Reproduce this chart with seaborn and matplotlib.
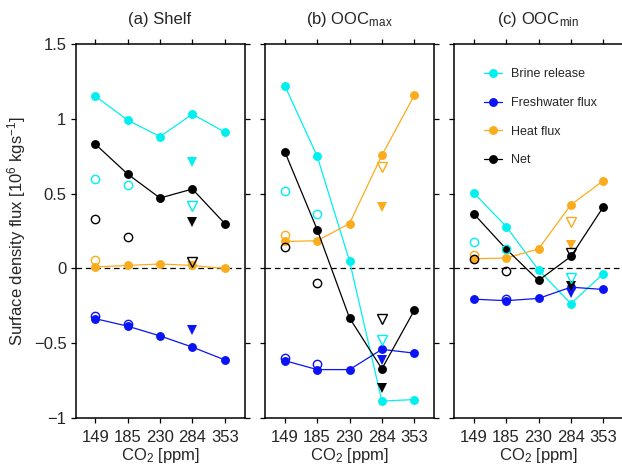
import numpy as np
import matplotlib
matplotlib.use("Agg")
import matplotlib.pyplot as plt
import seaborn as sns

nan = np.nan

# CO2 levels of the experiments
co2_labels = ["149", "185", "230", "284", "353"]

# Series names and colours
series_names = ["Brine release", "Freshwater flux", "Heat flux", "Net"]
series_colors = ["#00f0f0", "#0a14f5", "#fbac1c", "#000000"]

# (a) Shelf: control runs (lines), extra runs at 149/185 (open circles),
# sensitivity runs at 284 (filled / open triangles)
shelf_brine = [1.15, 0.99, 0.88, 1.03, 0.91]
shelf_fresh = [-0.335, -0.385, -0.45, -0.525, -0.61]
shelf_heat = [0.01, 0.02, 0.03, 0.02, 0.0]
shelf_net = [0.83, 0.63, 0.47, 0.53, 0.30]
shelf_open = [[0.60, 0.56], [-0.315, -0.37], [0.055, nan], [0.33, 0.21]]
shelf_tri_filled = [0.71, -0.41, 0.015, 0.31]
shelf_tri_open = [0.42, nan, nan, 0.04]

# (b) OOC max
max_brine = [1.22, 0.75, 0.05, -0.885, -0.875]
max_fresh = [-0.615, -0.675, -0.675, -0.54, -0.565]
max_heat = [0.18, 0.185, 0.30, 0.755, 1.155]
max_net = [0.78, 0.26, -0.33, -0.67, -0.28]
max_open = [[0.515, 0.365], [-0.60, -0.64], [0.225, nan], [0.14, -0.10]]
max_tri_filled = [nan, -0.61, 0.41, -0.80]
max_tri_open = [-0.48, nan, 0.68, -0.34]

# (c) OOC min
min_brine = [0.505, 0.28, -0.01, -0.235, -0.035]
min_fresh = [-0.205, -0.215, -0.20, -0.125, -0.14]
min_heat = [0.065, 0.07, 0.13, 0.425, 0.585]
min_net = [0.365, 0.13, -0.08, 0.08, 0.41]
min_open = [[0.175, 0.13], [nan, -0.205], [0.09, nan], [0.065, -0.015]]
min_tri_filled = [nan, -0.165, 0.155, -0.12]
min_tri_open = [-0.065, nan, 0.31, 0.105]

sns.set_style("ticks")
plt.rcParams["font.family"] = ["Liberation Sans", "DejaVu Sans"]
plt.rcParams["mathtext.fontset"] = "custom"
plt.rcParams["mathtext.rm"] = "Liberation Sans"
plt.rcParams["mathtext.it"] = "Liberation Sans"

fig = plt.figure(figsize=(6.22, 4.72), dpi=100)
W, H = 622, 472
ax_w = 169
bottom_px, top_px = 418.3, 43.7
lefts = [75.5, 265, 454]
axes = [fig.add_axes([l / W, (H - bottom_px) / H, ax_w / W, (bottom_px - top_px) / H])
        for l in lefts]

pos = np.arange(1, 6)


def draw_panel(ax, lines, open_pts, tri_filled, tri_open, title, show_legend=False):
    ax.axhline(0, color="k", lw=0.9, ls=(0, (4.5, 3.0)), zorder=1)
    for name, col, vals in zip(series_names, series_colors, lines):
        sns.lineplot(x=pos, y=vals, color=col, marker="o", markersize=6.4,
                     markeredgewidth=0, linewidth=0.9, ax=ax, label=name,
                     zorder=3)
    for col, vals in zip(series_colors, open_pts):
        sns.lineplot(x=pos[:2], y=vals, color=col, linestyle="none", marker="o",
                     markersize=6.0, markerfacecolor="none", markeredgecolor=col,
                     markeredgewidth=1.0, ax=ax, zorder=4)
    for col, v in zip(series_colors, tri_filled):
        sns.lineplot(x=[pos[3]], y=[v], color=col, linestyle="none", marker="v",
                     markersize=6.5, markeredgewidth=0, ax=ax, zorder=4)
    for col, v in zip(series_colors, tri_open):
        sns.lineplot(x=[pos[3]], y=[v], color=col, linestyle="none", marker="v",
                     markersize=6.5, markerfacecolor="none", markeredgecolor=col,
                     markeredgewidth=1.0, ax=ax, zorder=4)

    ax.set_xlim(0.39, 5.61)
    ax.set_ylim(-1, 1.5)
    ax.set_xticks(pos)
    ax.set_xticklabels(co2_labels)
    ax.set_yticks([-1, -0.5, 0, 0.5, 1, 1.5])
    ax.set_yticklabels(["\u22121", "\u22120.5", "0", "0.5", "1", "1.5"])
    ax.tick_params(direction="out", length=3.5, width=0.9, labelsize=12,
                   top=True, right=True, pad=3, color="k")
    ax.tick_params(axis="x", pad=5)
    for sp in ax.spines.values():
        sp.set_visible(True)
        sp.set_linewidth(1.1)
        sp.set_color("k")
    ax.set_xlabel("CO$_2$ [ppm]", fontsize=12, labelpad=1)
    ax.set_ylabel("")
    ax.set_title(title, fontsize=12, pad=14)

    leg = ax.get_legend()
    if leg is not None:
        leg.remove()
    if show_legend:
        ax.legend(loc="upper left", bbox_to_anchor=(0.145, 0.948), frameon=False,
                  fontsize=9, handlelength=1.45, handletextpad=0.75,
                  labelspacing=1.34, borderaxespad=0)


draw_panel(axes[0], [shelf_brine, shelf_fresh, shelf_heat, shelf_net],
           shelf_open, shelf_tri_filled, shelf_tri_open, "(a) Shelf")
draw_panel(axes[1], [max_brine, max_fresh, max_heat, max_net],
           max_open, max_tri_filled, max_tri_open, "(b) OOC$_{\\rm max}$")
draw_panel(axes[2], [min_brine, min_fresh, min_heat, min_net],
           min_open, min_tri_filled, min_tri_open, "(c) OOC$_{\\rm min}$",
           show_legend=True)

axes[0].set_ylabel("Surface density flux [10$^{6}$ kgs$^{-1}$]", fontsize=12, labelpad=4)
for ax in axes[1:]:
    ax.tick_params(labelleft=False)

fig.savefig("out.png", dpi=100)
